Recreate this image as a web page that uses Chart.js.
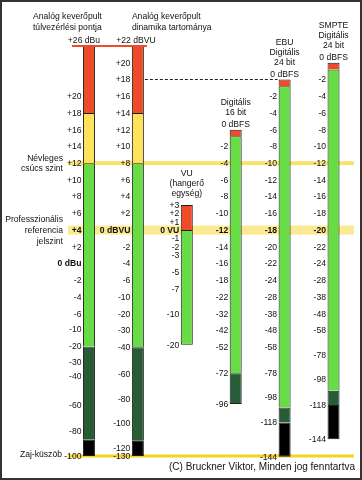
<!DOCTYPE html>
<html><head><meta charset="utf-8">
<script src="https://cdn.jsdelivr.net/npm/chart.js@4/dist/chart.umd.min.js"></script>
<style>html,body{margin:0;padding:0;background:#fff;}canvas{display:block;}</style>
</head><body>
<canvas id="c" width="362" height="480"></canvas>
<script>
// ---- DATA ----
const columns = ['dBu', 'dBVU', 'VU', '16 bit', 'EBU 24 bit', 'SMPTE 24 bit'];

// meter readings printed beside each column, and the reference level (dBu equivalent) each one sits at
const dbuTicks    = [26, 20, 18, 16, 14, 12, 10, 8, 6, 4, 2, 0, -2, -4, -6, -10, -20, -30, -40, -60, -80, -100];
const dbuLevels   = [26, 20, 18, 16, 14, 12, 10, 8, 6, 4, 2, 0, -2, -4, -6, -7.8, -9.9, -11.8, -13.5, -16.9, -20, -23];
const dbvuTicks   = [22, 20, 18, 16, 14, 12, 10, 8, 6, 4, 2, 0, -2, -4, -6, -10, -20, -30, -40, -60, -80, -100, -120, -130];
const dbvuLevels  = [26, 24, 22, 20, 18, 16, 14, 12, 10, 8, 6, 4, 2, 0, -2, -4, -6, -8, -10, -13.2, -16.2, -19.1, -22, -23];
const vuTicks     = [3, 2, 1, 0, -1, -2, -3, -5, -7, -10, -20];
const vuLevels    = [7, 6, 5, 4, 3, 2, 1, -1, -3, -6, -9.7];
const fs16Ticks   = [0, -2, -4, -6, -8, -10, -12, -14, -16, -18, -22, -32, -42, -52, -72, -96];
const fs16Levels  = [16, 14, 12, 10, 8, 6, 4, 2, 0, -2, -4, -6, -8, -10, -13.1, -16.8];
const ebuTicks    = [0, -2, -4, -6, -8, -10, -12, -14, -16, -18, -20, -22, -24, -28, -38, -48, -58, -78, -98, -118, -144];
const ebuLevels   = [22, 20, 18, 16, 14, 12, 10, 8, 6, 4, 2, 0, -2, -4, -6, -8, -10, -13.1, -16, -19, -23.1];
const smpteTicks  = [0, -2, -4, -6, -8, -10, -12, -14, -16, -18, -20, -22, -24, -28, -38, -48, -58, -78, -98, -118, -144];
const smpteLevels = [24, 22, 20, 18, 16, 14, 12, 10, 8, 6, 4, 2, 0, -2, -4, -6, -8, -10.9, -13.8, -16.9, -21];

// segment boundaries per column, in each column's own unit
const overloadTop   = [26, 22, 3, 0, 0, 0];
const headroomStart = [18, 14, 0, -0.8, -0.8, -0.8];
const nominalPeak   = [12, 8, null, null, null, null];
const signalEnd     = [-20, -40, -20, -72, -106, -107];
const noiseStart    = [-87, -114, null, -96, -118, -118];
const floorLevel    = [-100, -130, null, null, -144, -144];

// reference lines (dBu equivalent)
const nominalPeakLevel = 12;
const referenceLevel = 4;

// ---- mapping a reading to the common reference axis ----
const tables = [[dbuTicks, dbuLevels], [dbvuTicks, dbvuLevels], [vuTicks, vuLevels],
                [fs16Ticks, fs16Levels], [ebuTicks, ebuLevels], [smpteTicks, smpteLevels]];
function toLevel(col, v) {
  const [t, l] = tables[col];
  if (v >= t[0]) return l[0];
  for (let k = 0; k < t.length - 1; k++) {
    if (v <= t[k] && v >= t[k + 1]) {
      const f = (t[k] - v) / (t[k] - t[k + 1]);
      return l[k] + f * (l[k + 1] - l[k]);
    }
  }
  return l[l.length - 1];
}
const seg = (a, b) => columns.map((_, i) => (a[i] == null || b[i] == null) ? null : [toLevel(i, a[i]), toLevel(i, b[i])]);
const greenTop = columns.map((_, i) => nominalPeak[i] != null ? nominalPeak[i] : headroomStart[i]);

const segData = [
  seg(headroomStart, overloadTop),
  seg(nominalPeak, headroomStart),
  seg(signalEnd, greenTop),
  seg(noiseStart, signalEnd),
  seg(floorLevel, noiseStart)
];
const segColors = ['#ef4b2b', '#fde25a', '#68dc46', '#275c37', '#000000'];
const lowest = columns.map((_, i) => { let d = 0; segData.forEach((s, k) => { if (s[i]) d = k; }); return d; });

const FONT = '"Liberation Sans", Arial, sans-serif';
function txt(ctx, s, x, y, align, bold, size) {
  ctx.font = (bold ? 'bold ' : '') + (size || 8.6) + 'px ' + FONT;
  ctx.textAlign = align; ctx.textBaseline = 'middle'; ctx.fillStyle = '#111';
  ctx.fillText(s, x, y);
}
function fmt(col, v) {
  if (col === 0 && v === 0) return '0 dBu';
  if (col === 1 && v === 0) return '0 dBVU';
  if (col === 2 && v === 0) return '0 VU';
  return v > 0 ? '+' + v : String(v);
}
const titles = [['Analóg keverőpult', 'túlvezérlési pontja'], ['Analóg keverőpult', 'dinamika tartománya'],
                ['VU', '(hangerő', 'egység)'], ['Digitális', '16 bit'], ['EBU', 'Digitális', '24 bit'], ['SMPTE', 'Digitális', '24 bit']];
const topLabels = ['+26 dBu', '+22 dBVU', null, '0 dBFS', '0 dBFS', '0 dBFS'];

const overlay = {
  id: 'overlay',
  beforeDatasetsDraw(chart) {
    const { ctx, chartArea: ca, scales: { x, y } } = chart;
    ctx.save();
    const x0 = ca.left + 3.5, x1 = ca.right - 4;
    const band = (lvl, h, c) => { ctx.fillStyle = c; ctx.fillRect(x0, y.getPixelForValue(lvl) - h / 2, x1 - x0, h); };
    band(referenceLevel, 9, '#fbea92');
    band(nominalPeakLevel, 4, '#f9e36a');
    band(toLevel(0, dbuTicks[dbuTicks.length - 1]), 3, '#f6d31e');
    ctx.restore();
  },
  afterDatasetsDraw(chart) {
    const { ctx, chartArea: ca, scales: { x, y } } = chart;
    ctx.save();
    // overload line on top of the analog columns
    const yTop = y.getPixelForValue(toLevel(0, overloadTop[0]));
    ctx.fillStyle = '#ef4b2b';
    ctx.fillRect(x.getPixelForValue(0) - 17, yTop - 1, x.getPixelForValue(1) + 9 - (x.getPixelForValue(0) - 17), 2);
    // dashed line +18 dBVU -> EBU 0 dBFS
    const yd = Math.round(y.getPixelForValue(toLevel(1, 18))) + 0.5;
    ctx.strokeStyle = '#222'; ctx.lineWidth = 1; ctx.setLineDash([3, 2]);
    ctx.beginPath(); ctx.moveTo(x.getPixelForValue(1) + 7, yd); ctx.lineTo(x.getPixelForValue(4) - 7, yd); ctx.stroke();
    ctx.setLineDash([]);

    // tick labels
    tables.forEach(([t, l], i) => {
      const cx = x.getPixelForValue(i), left = cx - 6;
      t.forEach((v, k) => {
        if (topLabels[i] && k === 0) return;
        const bold = l[k] === referenceLevel || (i === 0 && v === 0);
        txt(ctx, fmt(i, v), left - 1.5, y.getPixelForValue(l[k]) + 0.5, 'right', bold);
      });
      const top = y.getPixelForValue(l[0]);
      if (topLabels[i]) txt(ctx, topLabels[i], i < 2 ? cx - (i === 0 ? 5 : 2) : cx, top - 5, 'center');
      const tl = titles[i];
      if (i < 2) {
        tl.forEach((s, k) => txt(ctx, s, cx + (i === 0 ? -56 : -6), top - 29 + k * 11, 'left'));
      } else if (i === 2) {
        tl.forEach((s, k) => txt(ctx, s, cx, top - 31 + k * 10, 'center'));
      } else {
        tl.forEach((s, k) => txt(ctx, s, cx, top - 17 - (tl.length - 1 - k) * 10, 'center'));
      }
    });

    // left annotations
    const ax = x.getPixelForValue(0) - 26;
    const yN = y.getPixelForValue(nominalPeakLevel);
    txt(ctx, 'Névleges', ax, yN - 5, 'right'); txt(ctx, 'csúcs szint', ax, yN + 5, 'right');
    const yR = y.getPixelForValue(referenceLevel);
    txt(ctx, 'Professzionális', ax, yR - 10, 'right'); txt(ctx, 'referencia', ax, yR + 1, 'right'); txt(ctx, 'jelszint', ax, yR + 12, 'right');
    txt(ctx, 'Zaj-küszöb', ax - 1, y.getPixelForValue(toLevel(0, dbuTicks[dbuTicks.length - 1])) - 1, 'right');
    txt(ctx, '(C) Bruckner Viktor, Minden jog fenntartva', ca.right - 3, 467, 'right', false, 10);
    ctx.restore();
  },
  afterDraw(chart) {
    const ctx = chart.ctx;
    ctx.save(); ctx.strokeStyle = '#333'; ctx.lineWidth = 2; ctx.strokeRect(1, 1, 360, 478); ctx.restore();
  }
};

const yMax = 26 + 46 / 8.367, yMin = -23 - 24 / 8.367;

new Chart(document.getElementById('c'), {
  type: 'bar',
  data: {
    labels: columns,
    datasets: segData.map((d, k) => ({
      data: d,
      backgroundColor: segColors[k],
      borderColor: '#1e1e1e',
      borderSkipped: false,
      borderWidth: (c) => ({ top: 1, left: 1, right: 1, bottom: lowest[c.dataIndex] === c.datasetIndex ? 1 : 0 }),
      barThickness: 12,
      grouped: false,
      inflateAmount: 0
    }))
  },
  options: {
    responsive: false,
    animation: false,
    devicePixelRatio: 1,
    layout: { padding: { left: 64.5, right: 4, top: 0, bottom: 0 } },
    plugins: { legend: { display: false }, tooltip: { enabled: false } },
    scales: {
      x: { display: false, offset: true },
      y: { display: false, min: yMin, max: yMax }
    }
  },
  plugins: [overlay]
});
</script>
</body></html>
